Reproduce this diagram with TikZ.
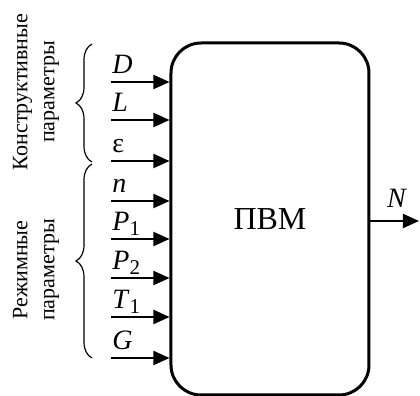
\documentclass[tikz,border=0pt]{standalone}
\usepackage{fontspec}
\setmainfont{Liberation Serif}
\usetikzlibrary{arrows.meta,decorations.pathreplacing}
\newcommand{\mysub}[1]{\raisebox{-0.35ex}{\fontsize{10.5}{10.5}\selectfont #1}}
\begin{document}
\begin{tikzpicture}[x=0.5pt,y=-0.5pt,
  inarrow/.style={line width=1pt,-{Triangle[length=8pt,width=7pt]}},
  lab/.style={anchor=base west,inner sep=0pt,font=\fontsize{14}{16}\selectfont},
  grp/.style={rotate=90,align=center,inner sep=0pt,font=\fontsize{11}{13.5}\selectfont},
  brc/.style={decorate,decoration={brace,amplitude=8pt},line width=0.6pt}]
\useasboundingbox (0,0) rectangle (420,396);
\node[draw,line width=1.5pt,rounded corners=15pt,minimum width=99pt,minimum height=176pt,inner sep=0pt,font=\fontsize{16}{18}\selectfont] (box) at (270,219) {ПВМ};
\foreach \y/\t [count=\i] in {82/{\textit{D}},120/{\textit{L}},161/{ε},201/{\textit{n}},239/{\textit{P}\mysub{1}},278/{\textit{P}\mysub{2}},317/{\textit{T}\mysub{1}},358/{\textit{G}}} {
  \coordinate (s\i) at (111,\y);
  \draw[inarrow] (s\i) -- (s\i -| box.west);
  \node[lab] (l\i) at (112,\y-8) {\t};
}
\coordinate (out) at (419,221);
\draw[inarrow] (box.east |- out) -- (out);
\node[anchor=base,inner sep=0pt,font=\fontsize{14}{16}\selectfont] (nl) at (397,208) {\textit{N}};
\draw[brc] (92,162) -- (92,44);
\draw[brc] (92,358) -- (92,164);
\node[grp] (g1) at (36,92) {Конструктивные\\параметры};
\node[grp] (g2) at (36,270) {Режимные\\параметры};
\end{tikzpicture}
\end{document}
